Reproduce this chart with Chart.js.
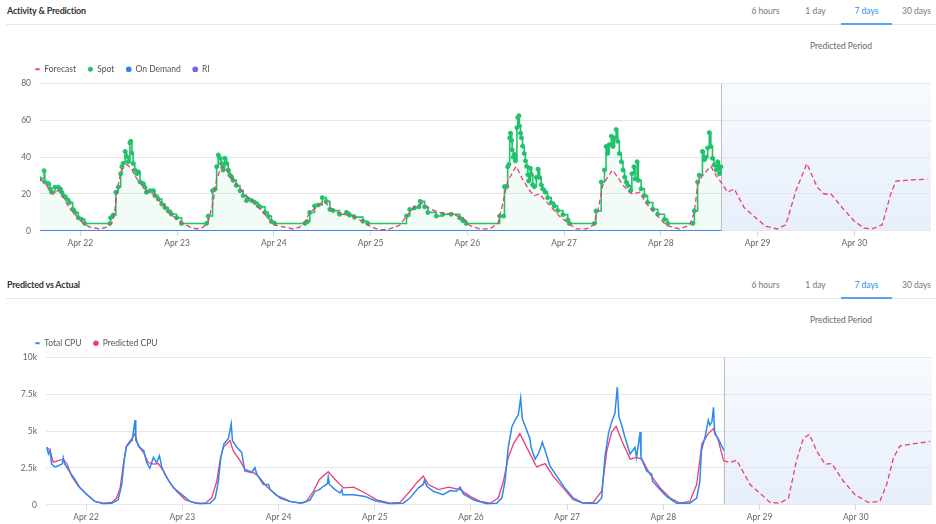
<!DOCTYPE html>
<html>
<head>
<meta charset="utf-8">
<script src="https://cdn.jsdelivr.net/npm/chart.js@4.4.0/dist/chart.umd.min.js"></script>
<style>
body { margin: 0; background: #fff; font-family: Lato, sans-serif; }
.panel { position: absolute; left: 0; width: 936px; height: 274px; }
.title { position: absolute; left: 7px; top: 5px; line-height: 12px; font-size: 9px; letter-spacing: -0.2px; font-weight: bold; color: #333; }
.rule { position: absolute; left: 6px; right: 0; top: 24px; height: 1px; background: #e6e6e6; }
.tab { position: absolute; top: 5px; width: 51px; line-height: 12px; text-align: center; font-size: 8.5px; color: #777; }
.tab.active { color: #2e8cf0; }
.tab.active::after { content: ""; position: absolute; left: 0; right: 0; top: 18px; height: 2px; background: #5aa2f5; }
.pred { position: absolute; top: 40px; left: 800px; width: 82px; line-height: 12px; text-align: center; font-size: 8.5px; color: #666; }
.box { position: absolute; left: 0; top: 53px; width: 936px; height: 197px; }
</style>
</head>
<body>
<div class="panel" style="top:0">
  <div class="title">Activity &amp; Prediction</div>
  <div class="rule"></div>
  <div class="tab" style="left:740px">6 hours</div>
  <div class="tab" style="left:790px">1 day</div>
  <div class="tab active" style="left:841px">7 days</div>
  <div class="tab" style="left:891px">30 days</div>
  <div class="pred">Predicted Period</div>
  <div class="box"><canvas id="activity"></canvas></div>
</div>
<div class="panel" style="top:274px">
  <div class="title">Predicted vs Actual</div>
  <div class="rule"></div>
  <div class="tab" style="left:740px">6 hours</div>
  <div class="tab" style="left:790px">1 day</div>
  <div class="tab active" style="left:841px">7 days</div>
  <div class="tab" style="left:891px">30 days</div>
  <div class="pred">Predicted Period</div>
  <div class="box"><canvas id="cpu"></canvas></div>
</div>
<script>
"use strict";

// x values are hours counted from Apr 21 00:00
const dayTicks = [24, 48, 72, 96, 120, 144, 168, 192, 216];
const dayLabels = ['Apr 22', 'Apr 23', 'Apr 24', 'Apr 25', 'Apr 26', 'Apr 27', 'Apr 28', 'Apr 29', 'Apr 30'];
const xMin = 14;
const xMax = 235;
const nowHour = 183;

const activityTicks = [0, 20, 40, 60, 80];
const cpuTicks = [0, 2500, 5000, 7500, 10000];

const spotHours = [14, 15, 15.2, 16.1, 16.5, 16.9, 17.7, 18.5, 19, 19.4, 19.8, 20.6, 21.3, 22.1, 22.7, 23.5, 24.3, 25.1,
  31.3, 31.5, 32.2, 32.8, 33.4, 34, 34.3, 34.6, 35.1, 35.5, 35.9, 36.3, 36.5, 36.8, 37.1, 37.5, 38, 38.4, 38.8, 39.6, 40, 40.4,
  41.3, 42.1, 42.5, 43.3, 44.2, 45, 45.8, 46.6, 47.9, 49.1,
  55.3, 55.7, 56.8, 57.4, 57.8, 58.2, 58.6, 59, 59.4, 59.8, 60.3, 60.7, 61.1, 61.5, 61.9, 62.7, 63.6, 64.4, 65.2, 65.6,
  66.5, 67.3, 68.1, 68.6, 69.8, 70.6, 71.4, 72.2,
  79.7, 80.3, 80.9, 82.1, 83, 84, 85, 85.9, 86.7, 88.3, 90, 90.8, 92, 94.1, 95.3,
  104.9, 105.7, 106.9, 108, 108.3, 109.4, 110.2, 112.3, 113.9, 116, 118.1, 118.9, 119.7,
  128, 129, 129.2, 129.8, 130, 130.3, 130.5, 130.7, 131, 131.1, 131.4, 131.7, 131.9, 132.3, 132.5, 132.8, 132.9, 133.2, 133.4, 133.7,
  134.1, 134.4, 134.7, 135, 135.2, 135.6, 135.9, 136.2, 136.6, 137.1, 137.5, 137.9, 138.3, 138.7, 139.3, 139.9, 140.8, 141.6, 142.4, 143.7,
  144.9, 145.3,
  151.5, 151.9, 153.2, 154, 154.4, 154.8, 155.2, 155.7, 156.1, 156.5, 156.9, 157.3, 157.7, 158.2, 158.6, 159, 159.4, 159.8, 160.5, 160.8,
  161.3, 161.6, 162.1, 162.4, 163.1, 163.9, 164.7, 166, 167.2, 168.9, 169.7,
  175.9, 176.3, 177.1, 177.5, 178.3, 178.7, 179.2, 179.6, 180, 180.4, 180.8, 181.2, 181.7, 182.1, 182.5, 182.9];
const spotValues = [28.3, 32.6, 26.5, 25.6, 22.8, 20.9, 23.7, 23.7, 22.8, 20.9, 19.1, 17.3, 15.4, 11.7, 9.9, 7.1, 6.2, 4,
  4, 7.1, 8.6, 20.9, 23.7, 31, 34.8, 36.6, 43.1, 40.3, 37.5, 47.7, 48.6, 42.2, 36.6, 33, 31, 32, 26.5, 25.6, 23.7, 20.9,
  21.8, 21.8, 19.1, 17.3, 14.5, 12.6, 10.8, 9, 7.1, 4,
  4, 8, 21.8, 22.7, 34.8, 41.2, 39.4, 36.6, 33, 39.4, 36.6, 33, 30.2, 29.3, 27.4, 24.6, 21.8, 19.1, 16.4, 17.3,
  16.4, 15.4, 13.6, 13, 10, 8, 5, 4,
  4, 5, 10, 13.5, 14, 18, 16, 11.6, 11, 9, 10, 8.5, 7.4, 5.2, 4,
  8, 11.6, 12.5, 13, 16, 13, 10, 8, 9, 9, 7, 5.5, 4,
  8, 8, 24, 24, 34.8, 36, 50.5, 53, 49, 44, 40, 41.5, 38, 56, 61.5, 62.5, 57, 53, 50.5, 46,
  42, 38, 35, 30.5, 27, 34, 30.5, 25, 24, 29, 33.5, 29, 25, 22.7, 21, 18, 15.3, 13.5, 11, 8.8,
  6, 4,
  4, 10.8, 26.5, 33, 45.8, 42, 46.8, 51.4, 45.8, 50.5, 55, 48.6, 42, 37.5, 33, 29.2, 26.5, 24.6, 21.9, 31,
  34.8, 28.2, 37.5, 27.4, 22.8, 19.1, 15.4, 11.7, 9, 6.2, 4,
  4, 10.8, 26.5, 30.2, 43.1, 38.5, 40, 45, 53.3, 45.8, 39.4, 35.7, 33, 37.5, 31, 34.8];

const forecastHours = [14, 15.2, 16.5, 17.3, 18.5, 19.4, 20.6, 21.4, 22.7, 23.5, 24.7, 26.4, 28.9, 30.5, 31.8, 32.6, 33.4, 34.2, 35.5, 36.7,
  37.5, 38.8, 40, 40.8, 42.1, 43.3, 44.6, 45.8, 47, 48.7, 51.2, 52.8, 54.5, 55.7, 56.9, 57.8, 59, 60.3, 61.1, 62.3,
  64, 65.6, 67.3, 68.5, 69.7, 71, 72.6, 74.7, 76.8, 78.4, 79.7, 80.9, 82.1, 84.2, 85.4, 86.7, 89.2, 91.6, 94.1, 96.2,
  98.2, 100.7, 103.2, 105.3, 106.9, 109, 110.6, 113.1, 116.4, 118.9, 120.5, 123, 125.5, 127.6, 128.8, 130, 132.1, 133.7, 135.4, 136.6,
  137.9, 139.9, 141.2, 142.8, 144.5, 147, 149.5, 151.1, 152.3, 153.6, 156, 157.3, 158.9, 160.2, 161, 162.7, 164.3, 165.6, 167.2, 169.3,
  172.6, 175.1, 176.3, 177.1, 178.3, 180.4, 181.7, 183.2, 184.5, 186.2, 188.7, 191.6, 194, 196.9, 199, 201.5, 204.2, 206.8, 208.5, 210.2,
  213, 216, 218.4, 220.4, 222.9, 225, 226.3, 230.3, 234.1];
const forecastValues = [28, 26, 22, 20, 22, 20, 15, 12, 9, 7, 4, 2, 1, 2, 4, 12, 25, 33, 36, 34,
  30, 26, 23, 21, 20, 17, 14, 10, 8, 5, 2, 1, 2, 5, 15, 28, 35, 33, 30, 26,
  22, 18, 15, 12, 9, 6, 3, 2, 1, 2, 5, 10, 12, 16, 14, 11, 9, 8, 5, 2,
  0.5, 1, 3, 9, 13, 15, 12, 10, 9, 7, 3, 1, 1, 4, 15, 27, 35, 28, 22, 19,
  20, 15, 12, 8, 5, 1, 1, 3, 10, 25, 33, 29, 24, 21, 20, 21, 15, 12, 8, 3,
  1, 3, 10, 25, 30, 35, 30, 25.5, 21, 22.7, 12.5, 7, 2.4, 1, 3.3, 21.8, 36.5, 23.6, 20, 20,
  12.5, 5.2, 1.5, 1, 3.3, 20, 27, 27.7, 28];

const onDemandHours = [14, 183];
const onDemandValues = [0, 0];
const riHours = [14, 183];
const riValues = [0, 0];

const totalCpuHours = [14.2, 14.6, 15, 15.4, 16.2, 17.5, 18.1, 18.3, 18.7, 20, 21.2, 22.5, 24.2, 26.2, 28.3, 30.4, 32, 32.9, 33.5, 34,
  35, 35.5, 36.2, 36.4, 37.4, 38.4, 39.1, 39.9, 40.8, 41.6, 42.3, 42.9, 44.1, 45.8, 47.9, 49.9, 52.4, 54.9, 56.2, 57,
  57.6, 58.4, 59.5, 60.2, 60.5, 61.6, 62.8, 63.6, 65.3, 66.1, 66.6, 68.2, 69.5, 69.9, 72.4, 74.9, 77.8, 79.9, 81.1, 82.2,
  83.2, 84.2, 84.4, 84.7, 86.1, 87.3, 87.8, 88, 90.7, 93.6, 96.1, 99.8, 103.1, 104.8, 106.9, 108.1, 108.4, 109, 110.6, 113.1,
  114.8, 116.4, 117.3, 118.1, 120.6, 123.9, 126.4, 127.7, 128.5, 129.3, 130.2, 131, 131.8, 132.4, 132.8, 133.9, 134.7, 135, 136, 136.8,
  137.4, 137.8, 138.5, 139.7, 141.4, 143.4, 145.5, 148, 151.4, 152.6, 153.4, 154.3, 155.1, 155.9, 156.5, 156.9, 157.6, 158.4, 159.7, 160.9,
  161.3, 162.2, 162.4, 163.8, 165.1, 165.3, 167.2, 168.8, 171.3, 174.6, 176.3, 177.1, 177.5, 178.4, 179.2, 179.6, 180.1, 180.5, 180.8, 181.7,
  182.5, 183.1];
const totalCpuValues = [3900, 3450, 3700, 2760, 2570, 2700, 2800, 3200, 2760, 2200, 1720, 1150, 690, 230, 70, 110, 340, 1380, 3000, 3900,
  4250, 4370, 5750, 4370, 3900, 3680, 2870, 2480, 3220, 2870, 3330, 2530, 1840, 1150, 690, 230, 70, 110, 460, 1600,
  3200, 4140, 4500, 5500, 4370, 3900, 3560, 2300, 2180, 2530, 2070, 1380, 1380, 1030, 460, 230, 110, 340, 920, 1030,
  1260, 1430, 1890, 1380, 1030, 800, 1030, 690, 690, 570, 280, 70, 110, 460, 1150, 1380, 1660, 1260, 920, 690,
  970, 920, 1200, 740, 340, 70, 110, 460, 1600, 3900, 5290, 5750, 6100, 7240, 5860, 5060, 4500, 3900, 3100, 3450,
  3900, 4250, 3680, 2640, 1950, 1150, 460, 110, 110, 460, 3200, 4830, 5630, 6200, 8000, 5980, 5400, 4600, 3450, 3900,
  3220, 4940, 3220, 2300, 2070, 1600, 1030, 570, 110, 110, 460, 1600, 3680, 4600, 5750, 5400, 5630, 6620, 4830, 4480,
  4020, 3680];

const predCpuHours = [14.2, 15, 15.8, 17.1, 18.3, 19.2, 20.4, 22.1, 24.2, 26.2, 28.3, 30.4, 31.6, 32.5, 33.3, 34.1, 35.4, 36.2, 37, 38.3,
  39.5, 40.8, 42, 43.3, 44.9, 46.6, 48.7, 51.2, 53.7, 55.3, 56.6, 57.4, 58.2, 59.9, 60.7, 62.4, 63.6, 65.7, 66.9, 69,
  71.5, 74.9, 77.4, 79, 80.7, 82.2, 84.4, 85.7, 88.2, 90.7, 93.6, 96.5, 99.8, 102.3, 104.8, 106.5, 108.1, 109.4, 111.9, 114.4,
  117.3, 119.8, 122.3, 124.8, 126.8, 128.1, 129.3, 130.6, 132.2, 133.9, 136.4, 138.5, 140.5, 143, 145.5, 148, 150.5, 152.6, 153.9, 155.1,
  156.2, 157.6, 159.7, 161.3, 162.6, 164.7, 167.2, 169.7, 172.1, 174.6, 176.3, 177.6, 179.2, 180.5, 181.7, 183, 184.6, 186.3, 189.6, 192.5,
  194.6, 197.1, 199.2, 201.2, 202.9, 204.4, 206.2, 208.3, 210, 212.9, 215.8, 219.1, 222, 223.7, 225.4, 227, 230.3, 234.5];
const predCpuValues = [3900, 3700, 2900, 3000, 3100, 2800, 1950, 1260, 690, 230, 110, 160, 460, 1150, 2760, 4000, 4500, 4830, 4000, 3560,
  2870, 2760, 2800, 2300, 1500, 920, 340, 110, 110, 460, 1600, 3000, 3900, 4370, 3680, 3000, 2400, 2200, 1950, 1260,
  640, 230, 110, 230, 920, 1720, 2250, 1840, 1150, 1200, 800, 340, 110, 160, 920, 1500, 1950, 1380, 1030, 1200,
  1030, 570, 230, 110, 460, 1600, 3200, 4140, 4830, 3900, 2570, 2800, 1950, 1150, 340, 110, 160, 920, 3680, 4940,
  5330, 4370, 3100, 3220, 3100, 2070, 1150, 460, 110, 230, 1380, 4140, 4830, 5170, 4370, 3000, 2870, 3030, 1380, 690,
  160, 110, 460, 3000, 4500, 4780, 3680, 2760, 2800, 1600, 690, 160, 230, 1380, 3200, 4000, 4140, 4300];

Chart.defaults.font.family = 'Lato';
Chart.defaults.font.size = 8.5;
Chart.defaults.color = '#666';

function toPoints(hours, values)
{
    return hours.map((h, i) => ({x: h, y: values[i]}));
}

// shaded forecast window plus the "now" marker
const predictedArea = {
    id: 'predictedArea',
    beforeDraw(chart)
    {
        const {ctx, chartArea, scales} = chart;
        const x0 = scales.x.getPixelForValue(nowHour);
        const g = ctx.createLinearGradient(0, chartArea.top, 0, chartArea.bottom);
        g.addColorStop(0, 'rgba(247,250,254,1)');
        g.addColorStop(1, 'rgba(231,239,252,1)');
        ctx.save();
        ctx.fillStyle = g;
        ctx.fillRect(x0, chartArea.top, chartArea.right - x0, chartArea.bottom - chartArea.top);
        ctx.restore();
    },
    beforeDatasetsDraw(chart)
    {
        const {ctx, chartArea, scales} = chart;
        const x0 = Math.round(scales.x.getPixelForValue(nowHour)) + 0.5;
        ctx.save();
        ctx.strokeStyle = '#bdbdbd';
        ctx.lineWidth = 1;
        ctx.beginPath();
        ctx.moveTo(x0, chartArea.top);
        ctx.lineTo(x0, chartArea.bottom);
        ctx.stroke();
        ctx.restore();
    }
};

// legend starts a bit right of the canvas edge, the axis keeps its own width
const legendInset = {
    id: 'legendInset',
    afterLayout(chart)
    {
        chart.legend.left = 23;
    }
};

function baseOptions(yTicks, yWidth, tickFormat)
{
    return {
        responsive: true,
        maintainAspectRatio: false,
        animation: false,
        layout: { padding: { left: 0, right: 4, top: 0, bottom: 0 } },
        plugins: {
            legend: {
                align: 'start',
                labels: {
                    usePointStyle: true,
                    boxWidth: 5,
                    boxHeight: 3,
                    padding: 12,
                    color: '#555',
                    font: { size: 8.5 }
                }
            },
            tooltip: { enabled: false }
        },
        scales: {
            x: {
                type: 'linear',
                min: xMin,
                max: xMax,
                afterBuildTicks: axis => { axis.ticks = dayTicks.map(v => ({value: v})); },
                ticks: {
                    autoSkip: false,
                    maxRotation: 0,
                    padding: 2,
                    callback: value => dayLabels[dayTicks.indexOf(value)]
                },
                grid: { drawOnChartArea: false, tickLength: 5, color: '#cbd6ea' },
                border: { display: false }
            },
            y: {
                min: yTicks[0],
                max: yTicks[yTicks.length - 1],
                afterBuildTicks: axis => { axis.ticks = yTicks.map(v => ({value: v})); },
                afterFit: axis => { axis.width = yWidth; },
                ticks: { padding: 9, callback: tickFormat },
                grid: { drawTicks: false, color: '#e6e6e6' },
                border: { display: false }
            }
        }
    };
}

new Chart(document.getElementById('activity'), {
    type: 'line',
    data: {
        datasets: [
            {
                label: 'Forecast',
                data: toPoints(forecastHours, forecastValues),
                borderColor: '#ee3d74',
                borderWidth: 1.3,
                borderDash: [5, 3],
                pointRadius: 0,
                pointStyle: 'line',
                pointBorderColor: '#ee3d74',
                pointBorderWidth: 2,
                fill: false
            },
            {
                label: 'Spot',
                data: toPoints(spotHours, spotValues),
                borderColor: '#21c26b',
                borderWidth: 1.6,
                stepped: true,
                pointRadius: 2,
                pointStyle: 'circle',
                pointBackgroundColor: '#21c26b',
                pointBorderColor: '#21c26b',
                pointBorderWidth: 1,
                backgroundColor: 'rgba(33,194,107,0.06)',
                fill: 'origin'
            },
            {
                label: 'On Demand',
                data: toPoints(onDemandHours, onDemandValues),
                borderColor: '#2f86f6',
                borderWidth: 1.5,
                pointRadius: 0,
                pointStyle: 'circle',
                pointBackgroundColor: '#2f86f6',
                pointBorderColor: '#2f86f6',
                fill: false
            },
            {
                label: 'RI',
                data: toPoints(riHours, riValues),
                borderColor: '#7563e6',
                borderWidth: 1.5,
                pointRadius: 0,
                pointStyle: 'circle',
                pointBackgroundColor: '#7563e6',
                pointBorderColor: '#7563e6',
                fill: false
            }
        ]
    },
    options: baseOptions(activityTicks, 40, v => v),
    plugins: [predictedArea, legendInset]
});

new Chart(document.getElementById('cpu'), {
    type: 'line',
    data: {
        datasets: [
            {
                label: 'Total CPU',
                data: toPoints(totalCpuHours, totalCpuValues),
                borderColor: '#2a8af0',
                borderWidth: 1.5,
                pointRadius: 0,
                pointStyle: 'line',
                pointBorderColor: '#2a8af0',
                pointBorderWidth: 2,
                fill: false
            },
            {
                label: 'Predicted CPU',
                data: toPoints(predCpuHours, predCpuValues),
                borderColor: '#ee3d74',
                borderWidth: 1.3,
                segment: {
                    borderDash: ctx => ctx.p0.parsed.x >= nowHour ? [5, 3] : undefined
                },
                pointRadius: 0,
                pointStyle: 'circle',
                pointBackgroundColor: '#ee3d74',
                pointBorderColor: '#ee3d74',
                fill: false
            }
        ]
    },
    options: baseOptions(cpuTicks, 46, v => v === 0 ? '0' : (v / 1000) + 'k'),
    plugins: [predictedArea, legendInset]
});
</script>
</body>
</html>
